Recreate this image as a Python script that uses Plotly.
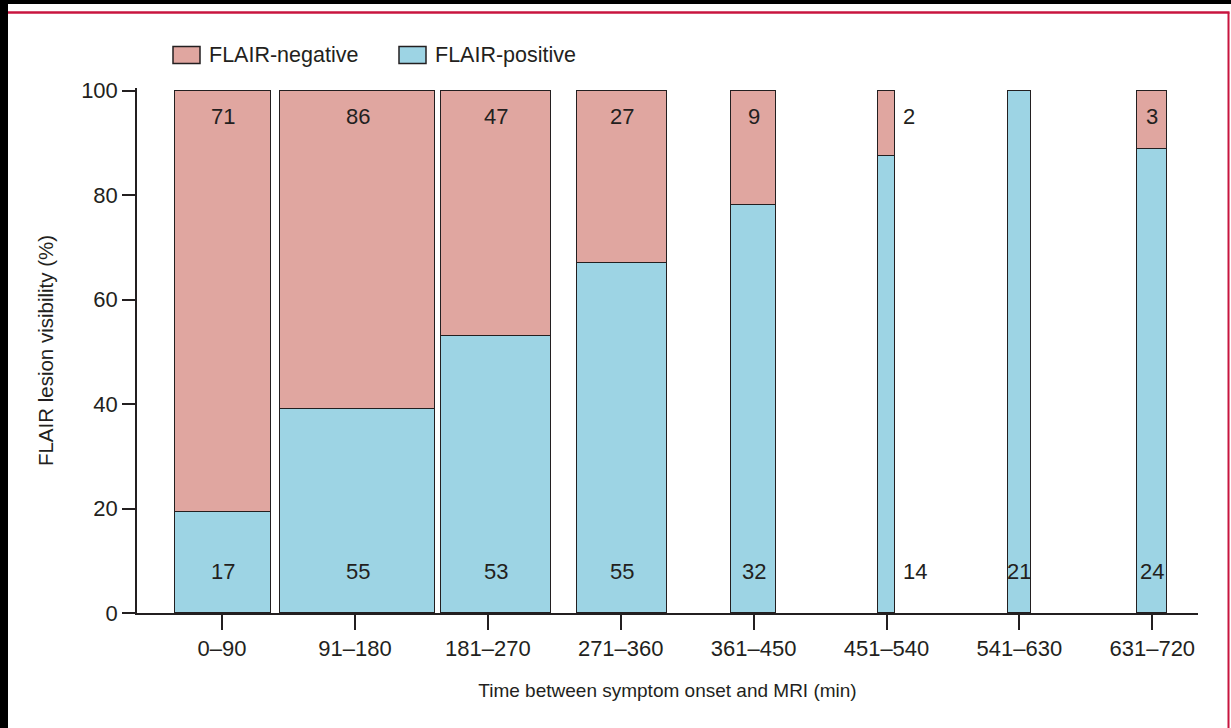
import plotly.graph_objects as go

# ---- data ----
categories = ["0–90", "91–180", "181–270", "271–360", "361–450", "451–540", "541–630", "631–720"]
flair_negative = [71, 86, 47, 27, 9, 2, 0, 3]    # patients, FLAIR-negative
flair_positive = [17, 55, 53, 55, 32, 14, 21, 24]  # patients, FLAIR-positive
y_ticks = [0, 20, 40, 60, 80, 100]

# ---- derived ----
totals = [p + n for p, n in zip(flair_positive, flair_negative)]
pct_pos = [100.0 * p / t for p, t in zip(flair_positive, totals)]
pct_neg = [100.0 * n / t for n, t in zip(flair_negative, totals)]

# ---- page geometry ----
W, H = 1231, 728
AX_L, AX_R, AX_B = 137, 1198, 613       # pixels of the plot area
ML, MR, MB = AX_L, W - AX_R, H - AX_B
MT = 88
PW, PH = W - ML - MR, H - MT - MB
XR = [-0.64, 7.344]
YR = [0, 100.5]
px_per_unit = PW / (XR[1] - XR[0])
widths = [t * 1.1 / px_per_unit for t in totals]
nudge_px = [1, 3, 8, 1.5, 0, 0, 0, 0]     # small horizontal offsets as drawn in the original
xpos = [i + d / px_per_unit for i, d in enumerate(nudge_px)]
tickpos = list(range(len(categories)))

INK = "#231f20"
NEG = "#e0a6a0"
POS = "#9dd4e4"
FONT = "Liberation Sans, Arial, sans-serif"


def px2x(px):
    return (px - AX_L) / PW


def py2y(py):
    return (AX_B - py) / PH


fig = go.Figure()
fig.add_trace(go.Bar(
    x=xpos, y=pct_pos, width=widths, name="FLAIR-positive",
    marker=dict(color=POS, line=dict(color=INK, width=1.5)),
    showlegend=False, hoverinfo="skip"))
fig.add_trace(go.Bar(
    x=xpos, y=pct_neg, width=widths, name="FLAIR-negative",
    marker=dict(color=NEG, line=dict(color=INK, width=1.5)),
    showlegend=False, hoverinfo="skip"))

annotations = []
for i, (n_neg, n_pos, w) in enumerate(zip(flair_negative, flair_positive, widths)):
    narrow = w * px_per_unit < 20
    xa = xpos[i] + (w / 2 if narrow else 0)
    anchor = "left" if narrow else "center"
    shift = 6 if narrow else 0
    if n_neg > 0:
        annotations.append(dict(x=xa, y=95, xref="x", yref="y", text=str(n_neg),
                                showarrow=False, xanchor=anchor, xshift=shift,
                                font=dict(size=22, color=INK, family=FONT)))
    annotations.append(dict(x=xa, y=8, xref="x", yref="y", text=str(n_pos),
                            showarrow=False, xanchor=anchor, xshift=shift,
                            font=dict(size=22, color=INK, family=FONT)))

# manual legend (large boxes like the reference)
legend_items = [("FLAIR-negative", NEG, 173), ("FLAIR-positive", POS, 399)]
shapes = [
    # white slide area over the black surround
    dict(type="rect", xref="paper", yref="paper", layer="below",
         x0=px2x(8), x1=px2x(W + 5), y0=py2y(4), y1=py2y(H + 5),
         fillcolor="white", line=dict(width=0)),
    # crimson frame lines
    dict(type="line", xref="paper", yref="paper",
         x0=px2x(8), x1=px2x(1229.5), y0=py2y(12.5), y1=py2y(12.5),
         line=dict(color="#c8153f", width=2.5)),
    dict(type="line", xref="paper", yref="paper",
         x0=px2x(1228.5), x1=px2x(1228.5), y0=py2y(12.5), y1=py2y(H + 5),
         line=dict(color="#c8153f", width=2)),
]
for label, col, x0 in legend_items:
    shapes.append(dict(type="rect", xref="paper", yref="paper",
                       x0=px2x(x0), x1=px2x(x0 + 27), y0=py2y(46.5), y1=py2y(63.5),
                       fillcolor=col, line=dict(color=INK, width=1.5)))
    annotations.append(dict(x=px2x(x0 + 34), y=py2y(55), xref="paper", yref="paper",
                            text=label, showarrow=False, xanchor="left", yanchor="middle",
                            font=dict(size=21.5, color=INK, family=FONT)))

fig.update_layout(
    width=W, height=H,
    margin=dict(l=ML, r=MR, t=MT, b=MB),
    paper_bgcolor="black", plot_bgcolor="white",
    barmode="stack", bargap=0,
    font=dict(family=FONT, color=INK),
    shapes=shapes, annotations=annotations,
    xaxis=dict(range=XR, tickmode="array", tickvals=tickpos, ticktext=categories,
               showline=True, linecolor=INK, linewidth=1.5,
               ticks="outside", ticklen=15, tickwidth=1.5, tickcolor=INK,
               showgrid=False, zeroline=False,
               tickfont=dict(size=22, color=INK, family=FONT),
               title=dict(text="Time between symptom onset and MRI (min)",
                          font=dict(size=19, color=INK, family=FONT), standoff=24)),
    yaxis=dict(range=YR, tickmode="array", tickvals=y_ticks,
               showline=True, linecolor=INK, linewidth=1.5,
               ticks="outside", ticklen=13, tickwidth=1.5, tickcolor=INK,
               showgrid=False, zeroline=False,
               tickfont=dict(size=22, color=INK, family=FONT),
               title=dict(text="FLAIR lesion visibility (%)",
                          font=dict(size=20.5, color=INK, family=FONT), standoff=22)),
)

fig.write_html("out.html",
               config={"displayModeBar": False},
               post_script="document.body.style.margin='0';"
                           "document.body.style.background='black';"
                           "document.body.style.overflow='hidden';")
